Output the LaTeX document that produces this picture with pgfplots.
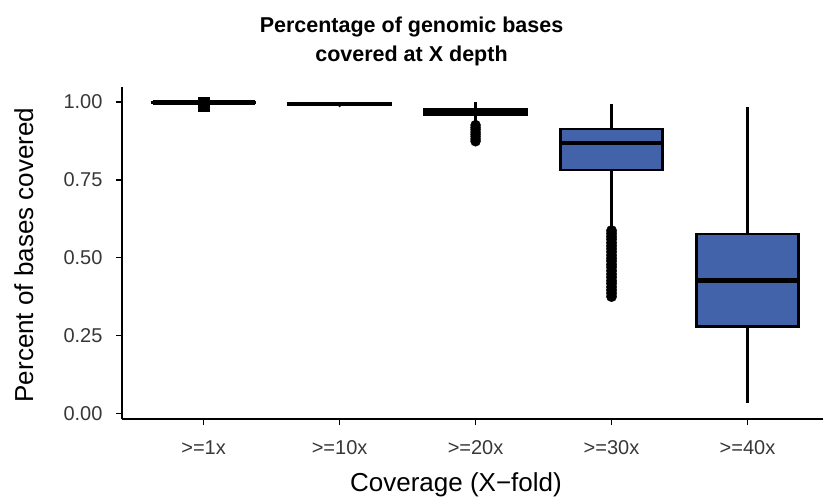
\documentclass[border=0pt]{standalone}
\usepackage{fontspec}
\setmainfont{Liberation Sans}
\usepackage{pgfplots}
\pgfplotsset{compat=1.18}
\usepgfplotslibrary{statistics}
\definecolor{boxblue}{RGB}{66,98,170}
\definecolor{ticktext}{RGB}{55,55,55}

\begin{document}
\begin{tikzpicture}
\useasboundingbox (0bp,0bp) rectangle (823bp,498bp);
\begin{axis}[
  at={(122bp,79bp)}, anchor=south west,
  scale only axis, width=701bp, height=332bp,
  xmin=0.4, xmax=5.555, ymin=-0.0185, ymax=1.0485,
  axis lines=left,
  axis line style={line width=1.4bp, -},
  tick align=outside, major tick length=6bp,
  tick style={line width=1.4bp, black},
  xtick={1,2,3,4,5},
  xticklabels={{>=1x},{>=10x},{>=20x},{>=30x},{>=40x}},
  ytick={0,0.25,0.5,0.75,1},
  yticklabels={0.00,0.25,0.50,0.75,1.00},
  ticklabel style={font=\fontsize{20bp}{22bp}\selectfont, text=ticktext},
  xticklabel style={yshift=-12bp},
  yticklabel style={xshift=-10bp},
  clip=false,
  boxplot/draw direction=y,
  boxplot/box extend=0.75,
  boxplot/whisker extend=0,
  boxplot/every median/.style={line width=4.6bp},
]
% quartile summaries for each coverage threshold
\addplot[draw=black, fill=boxblue, line width=2.2bp,
  boxplot prepared={draw position=1, lower whisker=0.995, lower quartile=0.996,
  median=0.999, upper quartile=1.000, upper whisker=1.000}] coordinates {};
\addplot[draw=black, fill=boxblue, line width=2.2bp,
  boxplot prepared={draw position=2, lower whisker=0.990, lower quartile=0.991,
  median=0.994, upper quartile=0.996, upper whisker=1.000}] coordinates {};
\addplot[draw=black, fill=boxblue, line width=2.2bp,
  boxplot prepared={draw position=3, lower whisker=0.940, lower quartile=0.959,
  median=0.969, upper quartile=0.977, upper whisker=1.000}] coordinates {};
\addplot[draw=black, fill=boxblue, line width=2.2bp,
  boxplot prepared={draw position=4, lower whisker=0.590, lower quartile=0.782,
  median=0.868, upper quartile=0.913, upper whisker=0.994}] coordinates {};
\addplot[draw=black, fill=boxblue, line width=2.2bp,
  boxplot prepared={draw position=5, lower whisker=0.032, lower quartile=0.279,
  median=0.426, upper quartile=0.577, upper whisker=0.984}] coordinates {};

% outlying samples
\addplot[only marks, mark=square*, mark size=5.2bp, mark options={draw=none, fill=black}]
  coordinates {(1,0.998) (1,0.994) (1,0.990) (1,0.987)};
\addplot[only marks, mark=*, mark size=1.2bp, mark options={draw=none, fill=black}]
  coordinates {(2,0.988)};
\addplot[only marks, mark=*, mark size=5bp, mark options={draw=none, fill=black}]
  coordinates {(3,0.926) (3,0.918) (3,0.911) (3,0.903) (3,0.896) (3,0.889) (3,0.881) (3,0.874)};
\addplot[only marks, mark=*, mark size=5.2bp, mark options={draw=none, fill=black}]
  coordinates {(4,0.587) (4,0.578) (4,0.568) (4,0.559) (4,0.548) (4,0.538) (4,0.529)
  (4,0.519) (4,0.508) (4,0.498) (4,0.489) (4,0.478) (4,0.469) (4,0.458) (4,0.447)
  (4,0.437) (4,0.426) (4,0.417) (4,0.406) (4,0.396) (4,0.386) (4,0.375)};
\end{axis}

% title and axis titles
\node[font=\fontsize{21.5bp}{26bp}\selectfont\bfseries, anchor=base] at (411.5bp,465bp) {Percentage of genomic bases};
\node[font=\fontsize{21.5bp}{26bp}\selectfont\bfseries, anchor=base] at (411.5bp,436bp) {covered at X depth};
\node[font=\fontsize{26bp}{30bp}\selectfont, anchor=base] at (456bp,6.5bp) {Coverage (X−fold)};
\node[font=\fontsize{26bp}{30bp}\selectfont, anchor=base, rotate=90] at (33bp,243bp) {Percent of bases covered};
\end{tikzpicture}
\end{document}
